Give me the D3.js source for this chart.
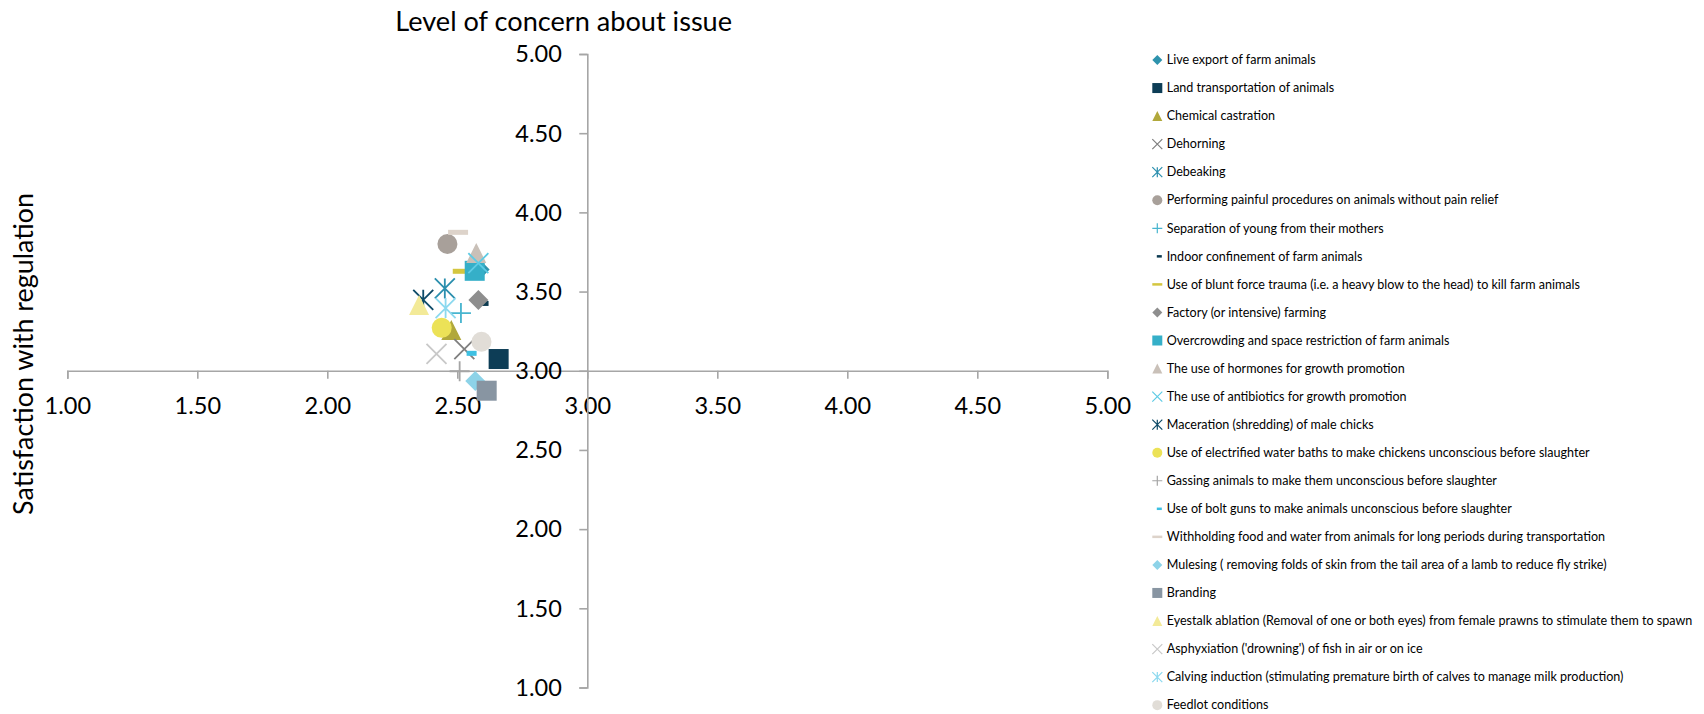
<!DOCTYPE html>
<html><head><meta charset="utf-8">
<script src="https://cdn.jsdelivr.net/npm/d3@7"></script>
<style>
body{margin:0;background:#fff}
svg{display:block}
text{font-family:Lato,"Open Sans",sans-serif;fill:#000}
</style>
</head><body>
<svg id="c" width="1704" height="714"></svg>
<script>
// ---- data ----
const categories = [
  "Live export of farm animals",
  "Land transportation of animals",
  "Chemical castration",
  "Dehorning",
  "Debeaking",
  "Performing painful procedures on animals without pain relief",
  "Separation of young from their mothers",
  "Indoor confinement of farm animals",
  "Use of blunt force trauma (i.e. a heavy blow to the head) to kill farm animals",
  "Factory (or intensive) farming",
  "Overcrowding and space restriction of farm animals",
  "The use of hormones for growth promotion",
  "The use of antibiotics for growth promotion",
  "Maceration (shredding) of male chicks",
  "Use of electrified water baths to make chickens unconscious before slaughter",
  "Gassing animals to make them unconscious before slaughter",
  "Use of bolt guns to make animals unconscious before slaughter",
  "Withholding food and water from animals for long periods during transportation",
  "Mulesing ( removing folds of skin from the tail area of a lamb to reduce fly strike)",
  "Branding",
  "Eyestalk ablation (Removal of one or both eyes) from female prawns to stimulate them to spawn",
  "Asphyxiation ('drowning') of fish in air or on ice",
  "Calving induction (stimulating premature birth of calves to manage milk production)",
  "Feedlot conditions"
];
const concern = [2.586, 2.659, 2.477, 2.527, 2.452, 2.462, 2.514, 2.601, 2.521, 2.581, 2.567, 2.573,
                 2.581, 2.369, 2.440, 2.509, 2.555, 2.503, 2.569, 2.613, 2.353, 2.420, 2.455, 2.593];
const satisfaction = [3.640, 3.074, 3.257, 3.136, 3.520, 3.800, 3.364, 3.425, 3.628, 3.446, 3.631, 3.744,
                      3.679, 3.448, 3.271, 2.997, 3.110, 3.874, 2.936, 2.874, 3.415, 3.107, 3.396, 3.183];
const xTicks = [1.00, 1.50, 2.00, 2.50, 3.00, 3.50, 4.00, 4.50, 5.00];
const yTicks = [1.00, 1.50, 2.00, 2.50, 3.00, 3.50, 4.00, 4.50, 5.00];
const xTitle = "Level of concern about issue";
const yTitle = "Satisfaction with regulation";

// ---- styles ----
const markerShapes = ["diamond","square","triangle","x","star","circle","plus","dot","dash","diamond","square","triangle",
                      "x","star","circle","plus","dot","dash","diamond","square","triangle","x","star","circle"];
const markerColors = ["#2e93ad","#0d3d56","#b1a83b","#7f7f7f","#2b8fae","#a8a09a","#48b5cf","#0c3a50","#d4c640","#8e8e8e","#35afc8","#c9c0b8",
                      "#5ecbe5","#0e4b68","#ece257","#a5a5a5","#3ec0e2","#ddd3ca","#8dd3e8","#8895a2","#f3ea98","#c8c8c8","#8cd9ef","#e1ddd7"];

const svg = d3.select("#c");
const x = d3.scaleLinear().domain([1,5]).range([67.3,1107.3]);
const y = d3.scaleLinear().domain([1,5]).range([687.5,54]);
const axisColor = "#a6a6a6";
const fmt = d3.format(".2f");

function fitSize(textSel, target){
  textSel.style("font-size","100px");
  const w = textSel.node().getComputedTextLength();
  const s = 100*target/w;
  textSel.style("font-size", s+"px");
  return s;
}

// axes
const gx = svg.append("g").attr("transform",`translate(0,${y(3)})`)
  .call(d3.axisBottom(x).tickValues(xTicks).tickFormat(fmt).tickSize(8).tickSizeOuter(8));
const gy = svg.append("g").attr("transform",`translate(${x(3)},0)`)
  .call(d3.axisLeft(y).tickValues(yTicks).tickFormat(fmt).tickSize(8).tickSizeOuter(8));
[gx,gy].forEach(g=>{
  g.attr("font-family",null).attr("font-size",null);
  g.selectAll("path,line").attr("stroke",axisColor).attr("stroke-width",1.6);
});
// measure tick font
const probe = svg.append("text").text("5.00");
const tickFont = fitSize(probe, 46.5);
probe.remove();
gx.selectAll("text").attr("y",43.5).attr("dy",null).style("font-size",tickFont+"px").attr("fill","#000");
gy.selectAll("text").attr("x",-25.5).attr("dy",null).attr("y",7.8).style("font-size",tickFont+"px").attr("fill","#000");

// titles
const tx = svg.append("text").text(xTitle).attr("text-anchor","middle").attr("x",563.7).attr("y",31);
fitSize(tx, 337);
const ty = svg.append("text").text(yTitle).attr("text-anchor","middle")
  .attr("transform","translate(33,354) rotate(-90)");
fitSize(ty, 322);

// marker drawing
function drawMarker(g, shape, color, s){
  const h = s/2;
  switch(shape){
    case "diamond":
      g.append("path").attr("d",`M0,${-h}L${h},0L0,${h}L${-h},0Z`).attr("fill",color); break;
    case "square":
      g.append("rect").attr("x",-h).attr("y",-h).attr("width",s).attr("height",s).attr("fill",color); break;
    case "triangle":
      g.append("path").attr("d",`M0,${-h}L${h},${h}L${-h},${h}Z`).attr("fill",color); break;
    case "circle":
      g.append("circle").attr("r",h).attr("fill",color); break;
    case "x":
      g.append("path").attr("d",`M${-h},${-h}L${h},${h}M${h},${-h}L${-h},${h}`)
        .attr("stroke",color).attr("stroke-width",Math.max(1.2,s/11)).attr("fill","none"); break;
    case "star":
      g.append("path").attr("d",`M${-h},${-h}L${h},${h}M${h},${-h}L${-h},${h}M0,${-h}L0,${h}`)
        .attr("stroke",color).attr("stroke-width",Math.max(1.2,s/11)).attr("fill","none"); break;
    case "plus":
      g.append("path").attr("d",`M${-h},0L${h},0M0,${-h}L0,${h}`)
        .attr("stroke",color).attr("stroke-width",Math.max(1.2,s/11)).attr("fill","none"); break;
    case "dot":
      g.append("rect").attr("x",-s/4).attr("y",-s/8).attr("width",s/2).attr("height",s/4).attr("fill",color); break;
    case "dash":
      g.append("rect").attr("x",-h).attr("y",-s/8).attr("width",s).attr("height",s/4).attr("fill",color); break;
  }
}

// points
const pts = svg.append("g");
categories.forEach((c,i)=>{
  const g = pts.append("g").attr("transform",`translate(${x(concern[i])},${y(satisfaction[i])})`);
  drawMarker(g, markerShapes[i], markerColors[i], 20);
});

// legend
const lg = svg.append("g");
let legFont = null;
categories.forEach((c,i)=>{
  const g = lg.append("g").attr("transform",`translate(1157.3,${60 + i*28.05})`);
  const sh = markerShapes[i];
  const mg = g.append("g").attr("transform", sh==="dot" ? "translate(2,0)" : null);
  drawMarker(mg, sh, markerColors[i], sh==="dash"||sh==="dot" ? 10 : 10);
  g.append("text").attr("class","lt").attr("x",9.4).attr("y",4.2).text(c);
});
const longest = lg.selectAll("text.lt").filter((d,i)=>i===20);
legFont = fitSize(longest, 526);
lg.selectAll("text.lt").style("font-size",legFont+"px");
</script>
</body></html>
